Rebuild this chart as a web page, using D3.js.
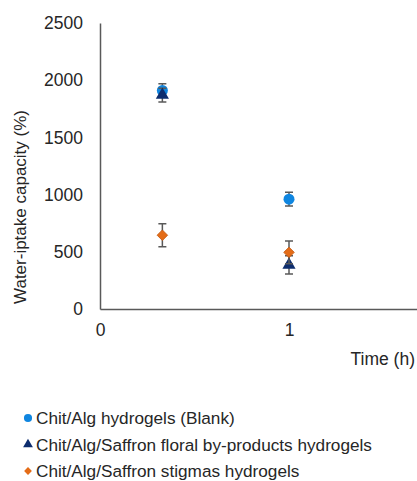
<!DOCTYPE html>
<html>
<head>
<meta charset="utf-8">
<script src="https://cdn.jsdelivr.net/npm/d3@7"></script>
<style>
  body { margin: 0; background: #fff; }
  text { font-family: "Liberation Sans", Arial, sans-serif; fill: #262626; }
</style>
</head>
<body>
<div class="chart"></div>
<script>
var svgWidth = 417;
var svgHeight = 481;

// data
var times = [0.33, 1];
var seriesNames = [
  "Chit/Alg hydrogels (Blank)",
  "Chit/Alg/Saffron floral by-products hydrogels",
  "Chit/Alg/Saffron stigmas hydrogels"
];
var blankValues = [1910, 960];
var blankErrors = [60, 60];
var floralValues = [1870, 385];
var floralErrors = [60, 80];
var stigmaValues = [645, 495];
var stigmaErrors = [100, 100];
var yTicks = [0, 500, 1000, 1500, 2000, 2500];
var xTicks = [0, 1];

var colors = ["#0f86e0", "#0d2d6e", "#e46c17"];
var symbols = [d3.symbolCircle, d3.symbolTriangle, d3.symbolSquare];
var symbolSizes = [95, 75, 55];

var series = [
  { values: blankValues, errors: blankErrors },
  { values: floralValues, errors: floralErrors },
  { values: stigmaValues, errors: stigmaErrors }
];

var svg = d3.select(".chart")
  .append("svg")
  .attr("width", svgWidth)
  .attr("height", svgHeight);

var xScale = d3.scaleLinear().domain([0, 2]).range([100, 478]);
var yScale = d3.scaleLinear().domain([0, 2500]).range([309, 23]);

// axes
var leftAxis = d3.axisLeft(yScale).tickValues(yTicks).tickSize(0).tickPadding(17).tickFormat(d3.format("d"));
var bottomAxis = d3.axisBottom(xScale).tickValues(xTicks).tickSize(0).tickPadding(15).tickFormat(d3.format("d"));

var gy = svg.append("g")
  .attr("transform", "translate(100,0)")
  .call(leftAxis);
var gx = svg.append("g")
  .attr("transform", "translate(0,309)")
  .call(bottomAxis);

[gx, gy].forEach(function(g) {
  g.select(".domain").attr("stroke", "#595959").attr("stroke-width", 1.5);
  g.selectAll("text").style("font-size", "17.5px").style("fill", "#262626");
});

// axis titles
svg.append("text")
  .attr("transform", "translate(26,207) rotate(-90)")
  .attr("text-anchor", "middle")
  .style("font-size", "17px")
  .text("Water-iptake capacity (%)");

svg.append("text")
  .attr("x", 415)
  .attr("y", 365)
  .attr("text-anchor", "end")
  .style("font-size", "17.5px")
  .text("Time (h)");

// error bars + markers
series.forEach(function(s, i) {
  var g = svg.append("g");
  var pts = times.map(function(t, j) {
    return { t: t, v: s.values[j], e: s.errors[j] };
  });
  g.selectAll(".err")
    .data(pts)
    .enter()
    .append("path")
    .attr("fill", "none")
    .attr("stroke", "#595959")
    .attr("stroke-width", 1.5)
    .attr("d", function(d) {
      var x = xScale(d.t), y0 = yScale(d.v - d.e), y1 = yScale(d.v + d.e);
      return "M" + (x - 4) + "," + y1 + "H" + (x + 4) +
        "M" + x + "," + y1 + "V" + y0 +
        "M" + (x - 4) + "," + y0 + "H" + (x + 4);
    });
  g.selectAll(".pt")
    .data(pts)
    .enter()
    .append("path")
    .attr("transform", function(d) {
      return "translate(" + xScale(d.t) + "," + yScale(d.v) + ")" + (i == 2 ? " rotate(45)" : "");
    })
    .attr("d", d3.symbol().type(symbols[i]).size(symbolSizes[i]))
    .attr("fill", colors[i])
    .attr("stroke", i == 2 ? "#c55a11" : "none")
    .attr("stroke-width", 0.8);
});

// legend
var legend = svg.append("g");
seriesNames.forEach(function(name, i) {
  var y = 424 + i * 26.5;
  legend.append("path")
    .attr("transform", "translate(28," + (y - 6) + ")" + (i == 2 ? " rotate(45)" : ""))
    .attr("d", d3.symbol().type(symbols[i]).size(symbolSizes[i] * 0.55))
    .attr("fill", colors[i]);
  legend.append("text")
    .attr("x", 36)
    .attr("y", y)
    .style("font-size", "17.2px")
    .text(name);
});
</script>
</body>
</html>
